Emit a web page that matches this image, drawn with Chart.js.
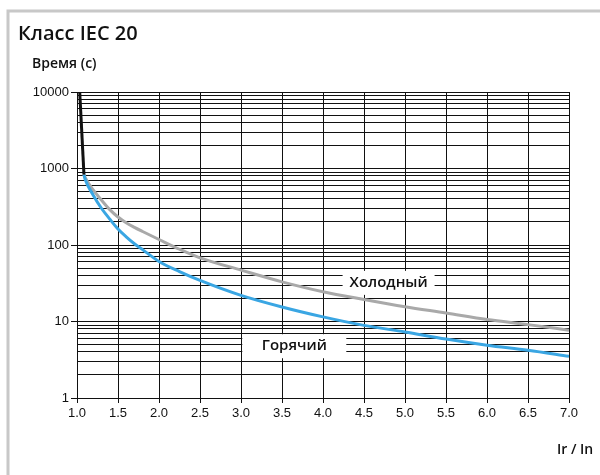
<!DOCTYPE html>
<html>
<head>
<meta charset="utf-8">
<script src="https://cdn.jsdelivr.net/npm/chart.js@4/dist/chart.umd.min.js"></script>
<style>
  html, body { margin: 0; padding: 0; background: #fff; }
  canvas { display: block; }
</style>
</head>
<body>
<canvas id="chart" width="600" height="475"></canvas>
<script>
// steep start of the curve (shared part above 1000 s)
const startX = [1.033, 1.085];
const startY = [10000, 830];

// Ir / In values for the two trip curves
const currentRatio = [1.085, 1.1, 1.2, 1.3, 1.4, 1.5, 1.6, 1.7, 1.8, 2.0, 2.25, 2.5, 3.0, 3.5, 4.0, 4.5, 5.0, 5.5, 6.0, 6.5, 7.0];
const coldTimes = [830, 760, 520, 385, 290, 232, 195, 170, 150, 118, 88, 68, 47, 33, 24.5, 19.4, 15.6, 12.9, 10.6, 9.1, 7.7];
const hotTimes = [830, 720, 445, 300, 218, 162, 128, 104, 87, 61, 45, 34.5, 22, 15.5, 11.5, 8.9, 7.3, 5.9, 4.9, 4.2, 3.5];

const yTickLabels = [1, 10, 100, 1000, 10000];
const xTickLabels = [1.0, 1.5, 2.0, 2.5, 3.0, 3.5, 4.0, 4.5, 5.0, 5.5, 6.0, 6.5, 7.0];

// curve labels: text, x, y (data units)
const curveLabels = [
  { text: 'Холодный', x: 4.8, y: 32, width: 92 },
  { text: 'Горячий', x: 3.65, y: 4.75, width: 104 }
];

const toPoints = (xs, ys) => xs.map((x, i) => ({ x: x, y: ys[i] }));

// grid lines at 1..9 x 10^n
const yGrid = [];
for (let d = 0; d < yTickLabels.length - 1; d++) {
  for (let m = 1; m < 10; m++) yGrid.push(m * yTickLabels[d]);
}
yGrid.push(yTickLabels[yTickLabels.length - 1]);

const decorPlugin = {
  id: 'decor',
  beforeDraw(chart) {
    const ctx = chart.ctx;
    ctx.save();
    ctx.strokeStyle = '#c8c8c8';
    ctx.lineWidth = 3;
    ctx.beginPath();
    ctx.moveTo(8, 475);
    ctx.lineTo(8, 11);
    ctx.lineTo(600, 11);
    ctx.stroke();
    ctx.restore();
  },
  beforeDatasetsDraw(chart) {
    const ctx = chart.ctx;
    const xs = chart.scales.x, ys = chart.scales.y;
    ctx.save();
    ctx.font = '600 15px "Open Sans"';
    ctx.textAlign = 'center';
    ctx.textBaseline = 'middle';
    curveLabels.forEach(l => {
      const px = xs.getPixelForValue(l.x);
      const py = ys.getPixelForValue(l.y);
      ctx.fillStyle = '#fff';
      ctx.fillRect(px - l.width / 2, py - 12, l.width, 24);
      ctx.fillStyle = '#111';
      ctx.fillText(l.text, px, py);
    });
    ctx.restore();
  },
  afterDraw(chart) {
    const ctx = chart.ctx;
    ctx.save();
    ctx.fillStyle = '#111';
    ctx.textAlign = 'left';
    ctx.textBaseline = 'alphabetic';
    ctx.font = '600 20px "Open Sans"';
    ctx.fillText('Класс IEC 20', 18, 40);
    ctx.font = '600 14px "Open Sans"';
    ctx.fillText('Время (с)', 32, 68);
    ctx.fillText('Ir / In', 557, 454);
    ctx.restore();
  }
};

new Chart(document.getElementById('chart'), {
  type: 'line',
  data: {
    datasets: [
      {
        label: 'start',
        data: toPoints(startX, startY),
        borderColor: '#111',
        borderWidth: 3,
        pointRadius: 0
      },
      {
        label: 'Горячий',
        data: toPoints(currentRatio, hotTimes),
        borderColor: '#3aa6e3',
        borderWidth: 3,
        pointRadius: 0,
        cubicInterpolationMode: 'monotone'
      },
      {
        label: 'Холодный',
        data: toPoints(currentRatio, coldTimes),
        borderColor: '#a9a9a9',
        borderWidth: 3,
        pointRadius: 0,
        cubicInterpolationMode: 'monotone'
      }
    ]
  },
  options: {
    responsive: false,
    animation: false,
    devicePixelRatio: 1,
    layout: {
      padding: { left: 0, top: 92, right: 31, bottom: 0 }
    },
    plugins: {
      legend: { display: false },
      tooltip: { enabled: false }
    },
    scales: {
      x: {
        type: 'linear',
        min: 1,
        max: 7,
        afterFit: (s) => { s.height = 77; },
        afterBuildTicks: (s) => { s.ticks = xTickLabels.map(v => ({ value: v })); },
        border: { color: '#111', width: 1 },
        grid: { color: '#111', lineWidth: 1, tickLength: 5, tickColor: '#111' },
        ticks: {
          padding: 3,
          color: '#111',
          font: { family: '"Liberation Sans", Arial, sans-serif', size: 13 },
          callback: (v) => Number(v).toFixed(1)
        }
      },
      y: {
        type: 'logarithmic',
        min: 1,
        max: 10000,
        afterFit: (s) => { s.width = 77; },
        afterBuildTicks: (s) => { s.ticks = yGrid.map(v => ({ value: v })); },
        border: { color: '#111', width: 1 },
        grid: {
          color: '#111',
          lineWidth: 1,
          tickLength: 6,
          tickColor: (c) => yTickLabels.includes(c.tick.value) ? '#111' : 'rgba(0,0,0,0)'
        },
        ticks: {
          padding: 2,
          color: '#111',
          autoSkip: false,
          font: { family: '"Liberation Sans", Arial, sans-serif', size: 13 },
          callback: (v) => yTickLabels.includes(v) ? String(v) : ''
        }
      }
    }
  },
  plugins: [decorPlugin]
});
</script>
</body>
</html>
